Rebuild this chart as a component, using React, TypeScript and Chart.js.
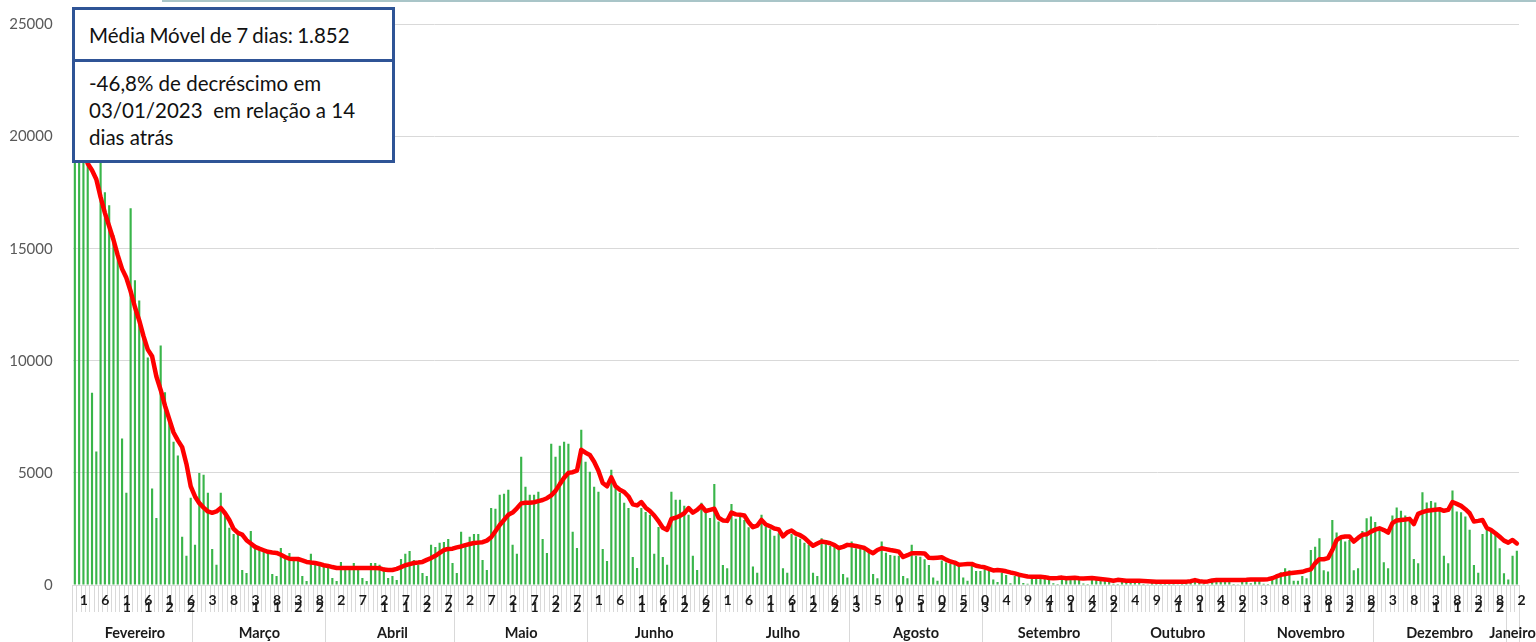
import React, { useEffect, useRef } from 'react';
import { Chart, registerables } from 'chart.js';

Chart.register(...registerables);

// ---- categories -------------------------------------------------------
const monthNames = ['Fevereiro', 'Março', 'Abril', 'Maio', 'Junho', 'Julho', 'Agosto', 'Setembro', 'Outubro', 'Novembro', 'Dezembro', 'Janeiro'];
const monthNumbers = [2, 3, 4, 5, 6, 7, 8, 9, 10, 11, 12, 1];
const monthDays = [28, 31, 30, 31, 30, 31, 31, 30, 31, 30, 31, 3];

// day-of-month shown under every 5th bar
const dayTicks = [
  1, 6, 11, 16, 21, 26,
  3, 8, 13, 18, 23, 28,
  2, 7, 12, 17, 22, 27,
  2, 7, 12, 17, 22, 27,
  1, 6, 11, 16, 21, 26,
  1, 6, 11, 16, 21, 26, 31,
  5, 10, 15, 20, 25, 30,
  4, 9, 14, 19, 24, 29,
  4, 9, 14, 19, 24, 29,
  3, 8, 13, 18, 23, 28,
  3, 8, 13, 18, 23, 28,
  2,
];

// ---- daily values (bars) ----------------------------------------------
const casesFev = [22000, 21500, 23500, 20500, 8580, 5950, 19800, 17520, 16940, 15600, 14800, 6530, 4110, 16800, 13590, 12690, 11000, 10150, 4300, 2990, 10680, 8600, 7400, 6390, 5780, 2150, 1300, 3890];
const casesMar = [1790, 5000, 4920, 4110, 1610, 900, 4110, 3080, 2550, 2280, 2280, 670, 540, 2410, 1790, 1650, 1560, 1430, 490, 400, 1650, 1210, 1430, 1120, 1120, 400, 180, 1390, 940, 1030, 900];
const casesAbr = [760, 310, 180, 1030, 760, 800, 980, 800, 310, 180, 980, 980, 900, 770, 310, 400, 220, 1160, 1390, 1520, 1120, 900, 540, 400, 1790, 1700, 1880, 1920, 2050, 980];
const casesMai = [540, 2370, 1790, 2150, 2280, 2280, 1120, 670, 3440, 3400, 4020, 4070, 4250, 1790, 1390, 5720, 4380, 4020, 4020, 4160, 2050, 1430, 6300, 5720, 6210, 6390, 6300, 2370, 1650, 6930, 5500];
const casesJun = [5050, 4380, 4160, 1610, 1070, 5140, 4340, 4110, 3670, 3440, 1250, 760, 3440, 3260, 3130, 1390, 2590, 1250, 900, 4160, 3800, 3800, 3530, 3130, 1300, 670, 3670, 3220, 2990, 4510];
const casesJul = [2830, 890, 750, 3610, 2950, 3100, 2900, 2580, 820, 550, 3130, 2610, 2490, 2200, 2310, 750, 550, 2270, 2160, 2060, 1890, 1790, 550, 400, 2090, 1860, 1740, 1700, 1680, 490, 340];
const casesAgo = [1940, 1640, 1640, 1600, 1560, 490, 300, 1940, 1440, 1340, 1300, 1300, 400, 300, 1790, 1300, 1260, 1150, 890, 340, 190, 1090, 1000, 940, 940, 850, 340, 190, 850, 620, 620];
const casesSet = [700, 620, 250, 130, 550, 450, 80, 400, 380, 90, 60, 330, 330, 300, 300, 290, 80, 50, 300, 280, 290, 270, 260, 70, 50, 280, 260, 250, 240, 230];
const casesOut = [60, 40, 220, 200, 190, 180, 170, 50, 30, 180, 170, 40, 160, 150, 40, 30, 160, 150, 150, 140, 150, 40, 30, 170, 160, 160, 150, 150, 40, 30, 180];
const casesNov = [180, 80, 200, 220, 60, 40, 370, 470, 570, 750, 660, 190, 190, 400, 300, 1560, 1710, 2090, 660, 600, 2900, 2340, 2160, 1940, 2010, 660, 750, 2410, 2980, 3050];
const casesDez = [2810, 2540, 1010, 750, 3100, 3460, 3310, 3100, 2900, 1160, 970, 4140, 3680, 3750, 3680, 3310, 1300, 970, 4220, 3280, 3250, 3050, 2460, 890, 550, 2270, 2540, 2430, 2240, 1640, 520];
const casesJan = [250, 1300, 1530];

// ---- 7-day moving average (line) --------------------------------------
const maFev = [20500, 19900, 19300, 18800, 18500, 18100, 17300, 16600, 16000, 15400, 14700, 14100, 13700, 13100, 12400, 11800, 11100, 10500, 10200, 9300, 8700, 8000, 7400, 6800, 6450, 6150, 5400, 4400];
const maMar = [3950, 3650, 3450, 3280, 3220, 3280, 3440, 3200, 2900, 2500, 2320, 2250, 2000, 1850, 1700, 1620, 1550, 1480, 1450, 1430, 1350, 1250, 1170, 1160, 1160, 1100, 1030, 1000, 980, 940, 880];
const maAbr = [850, 800, 760, 760, 760, 760, 760, 760, 760, 760, 760, 760, 750, 690, 670, 670, 720, 800, 880, 930, 980, 1000, 1030, 1120, 1200, 1300, 1430, 1560, 1610, 1620];
const maMai = [1680, 1720, 1780, 1830, 1870, 1890, 1910, 1980, 2130, 2400, 2680, 2900, 3130, 3230, 3420, 3640, 3670, 3670, 3690, 3740, 3790, 3870, 4000, 4200, 4500, 4780, 5000, 5030, 5100, 6030, 5900];
const maJun = [5800, 5500, 5100, 4550, 4400, 4800, 4400, 4250, 4150, 3950, 3600, 3550, 3700, 3450, 3300, 3100, 2850, 2550, 2460, 2950, 3000, 3080, 3200, 3430, 3230, 3350, 3530, 3300, 3350, 3400];
const maJul = [3000, 2880, 2860, 3230, 3150, 3130, 3100, 2800, 2580, 2650, 2900, 2700, 2620, 2520, 2480, 2170, 2350, 2430, 2290, 2220, 2100, 1920, 1750, 1850, 1940, 1910, 1860, 1780, 1650, 1700, 1790];
const maAgo = [1770, 1740, 1700, 1650, 1520, 1420, 1560, 1640, 1600, 1560, 1530, 1490, 1250, 1330, 1420, 1420, 1420, 1410, 1210, 1200, 1220, 1240, 1130, 1050, 1000, 900, 920, 940, 940, 860, 820];
const maSet = [790, 720, 650, 670, 650, 610, 560, 520, 460, 420, 380, 370, 370, 370, 350, 310, 300, 310, 330, 300, 310, 320, 300, 290, 300, 310, 290, 270, 250, 220];
const maOut = [190, 230, 210, 190, 190, 190, 190, 180, 170, 160, 150, 150, 150, 150, 150, 150, 150, 150, 170, 220, 170, 150, 160, 200, 220, 220, 220, 220, 220, 220, 220];
const maNov = [230, 250, 250, 250, 250, 260, 300, 380, 450, 490, 520, 550, 570, 590, 650, 700, 970, 1150, 1150, 1200, 1560, 2000, 2130, 2160, 2160, 1940, 2100, 2240, 2260, 2380];
const maDez = [2470, 2530, 2450, 2340, 2760, 2880, 2900, 2920, 2950, 2720, 3170, 3250, 3310, 3330, 3360, 3380, 3310, 3350, 3700, 3620, 3530, 3380, 3200, 2830, 2860, 2900, 2540, 2450, 2310, 2150, 1980];
const maJan = [1890, 2010, 1852];

const yTicks = [0, 5000, 10000, 15000, 20000, 25000];

const dailyCases = [
  ...casesFev, ...casesMar, ...casesAbr, ...casesMai, ...casesJun, ...casesJul,
  ...casesAgo, ...casesSet, ...casesOut, ...casesNov, ...casesDez, ...casesJan,
];
const movingAverage = [
  ...maFev, ...maMar, ...maAbr, ...maMai, ...maJun, ...maJul,
  ...maAgo, ...maSet, ...maOut, ...maNov, ...maDez, ...maJan,
];

const categories: string[] = [];
const monthLabelAt: string[] = [];
const monthStarts: number[] = [];
monthDays.forEach((n, m) => {
  monthStarts.push(categories.length);
  for (let d = 1; d <= n; d++) {
    categories.push(`${d}/${monthNumbers[m]}`);
    monthLabelAt.push('');
  }
});
monthStarts.forEach((s, m) => {
  monthLabelAt[s + Math.floor(monthDays[m] / 2)] = monthNames[m];
});
const boundarySet = new Set(monthStarts);

function stackedDay(n: number): string[] {
  const s = String(n);
  return s.length === 1 ? [s] : [s[1], s[0]];
}

const FONT = 'Lato, "Open Sans", sans-serif';
const GRID = '#d9d9d9';

export default function App() {
  const canvasRef = useRef<HTMLCanvasElement | null>(null);

  useEffect(() => {
    const canvas = canvasRef.current;
    if (!canvas) return;
    const chart = new Chart(canvas, {
      type: 'bar',
      data: {
        labels: categories,
        datasets: [
          {
            type: 'line',
            label: 'Média Móvel de 7 dias',
            data: movingAverage,
            borderColor: '#ff0000',
            backgroundColor: '#ff0000',
            borderWidth: 4.5,
            pointRadius: 0,
            tension: 0,
            borderJoinStyle: 'round',
            borderCapStyle: 'round',
            order: 0,
          } as any,
          {
            type: 'bar',
            label: 'Casos',
            data: dailyCases,
            backgroundColor: '#39b54a',
            borderWidth: 0,
            categoryPercentage: 1,
            barPercentage: 0.5,
            order: 1,
          },
        ],
      },
      options: {
        responsive: false,
        animation: false,
        devicePixelRatio: 1,
        layout: { padding: { left: 0, right: 17, top: 24.5, bottom: 0 } },
        plugins: { legend: { display: false }, tooltip: { enabled: false } },
        scales: {
          y: {
            min: 0,
            max: 25000,
            afterBuildTicks: (scale: any) => {
              scale.ticks = yTicks.map((v) => ({ value: v }));
            },
            afterFit: (scale: any) => {
              scale.width = 72.7;
              scale.paddingTop = 0;
              scale.paddingBottom = 0;
            },
            border: { display: false },
            grid: { color: GRID, lineWidth: 1, drawTicks: false },
            ticks: {
              padding: 20,
              color: '#595959',
              font: { family: FONT, size: 15 },
              callback: (v: any) => String(v),
            },
          },
          x: {
            type: 'category',
            position: 'bottom',
            offset: true,
            afterFit: (scale: any) => {
              scale.height = 27;
            },
            border: { display: false },
            grid: {
              offset: true,
              drawOnChartArea: false,
              drawTicks: true,
              tickLength: 27,
              color: GRID,
              lineWidth: 1,
            },
            ticks: {
              autoSkip: false,
              maxRotation: 0,
              minRotation: 0,
              padding: -16,
              labelOffset: 9,
              color: '#1a1a1a',
              font: { family: FONT, size: 14, weight: 'bold', lineHeight: 0.57 },
              callback: (_v: any, i: number) => (i % 5 === 0 ? stackedDay(dayTicks[i / 5]) : ''),
            },
          },
          x2: {
            type: 'category',
            position: 'bottom',
            labels: monthLabelAt,
            offset: true,
            afterFit: (scale: any) => {
              scale.height = 30;
            },
            border: { display: false },
            grid: {
              offset: true,
              drawOnChartArea: false,
              drawTicks: true,
              tickLength: 30,
              lineWidth: 1,
              color: (ctx: any) =>
                ctx.index === undefined || boundarySet.has(ctx.index) ? GRID : 'rgba(0,0,0,0)',
            },
            ticks: {
              autoSkip: false,
              maxRotation: 0,
              minRotation: 0,
              padding: -17,
              color: '#1a1a1a',
              font: { family: FONT, size: 14.5, weight: 'bold', lineHeight: 1.2 },
              callback: (_v: any, i: number) => monthLabelAt[i],
            },
          },
        },
      } as any,
    });
    return () => chart.destroy();
  }, []);

  const boxBorder = '3px solid #2f5496';
  const textStyle: React.CSSProperties = {
    position: 'absolute',
    left: 89,
    fontFamily: FONT,
    fontSize: 20.5,
    lineHeight: '27px',
    color: '#111',
    whiteSpace: 'nowrap',
  };

  return (
    <div style={{ position: 'fixed', left: 0, top: 0, width: 1536, height: 642, background: '#fff', overflow: 'hidden' }}>
      <canvas ref={canvasRef} width={1536} height={642} style={{ position: 'absolute', left: 0, top: 0 }} />
      <div style={{ position: 'absolute', left: 162, top: 0, right: 0, height: 2, background: '#a9c5c8' }} />
      <div style={{ position: 'absolute', left: 72, top: 7, width: 323, height: 55, border: boxBorder, boxSizing: 'border-box', background: '#fff' }} />
      <div style={{ position: 'absolute', left: 72, top: 59, width: 323, height: 104, border: boxBorder, boxSizing: 'border-box', background: '#fff' }} />
      <div style={{ ...textStyle, top: 22, wordSpacing: -1 }}>Média Móvel de 7 dias: 1.852</div>
      <div style={{ ...textStyle, top: 70 }}>
        -46,8% de decréscimo em
        <br />
        03/01/2023&nbsp; em relação a 14
        <br />
        dias atrás
      </div>
    </div>
  );
}
